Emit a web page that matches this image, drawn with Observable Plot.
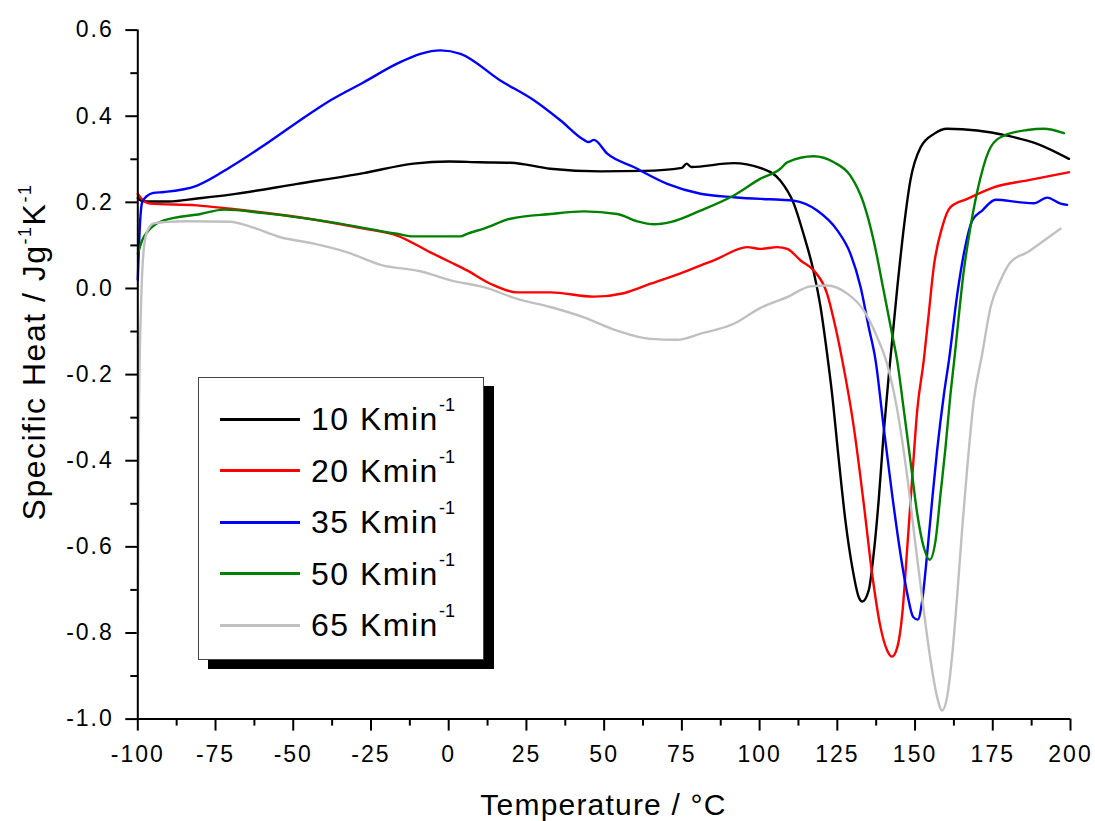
<!DOCTYPE html>
<html>
<head>
<meta charset="utf-8">
<script src="https://cdn.jsdelivr.net/npm/d3@7"></script>
<script src="https://cdn.jsdelivr.net/npm/@observablehq/plot@0.6"></script>
<style>
  body { margin: 0; background: #fff; }
  #wrap { position: relative; width: 1095px; height: 821px; font-family: "Liberation Sans", Arial, sans-serif; color: #000; }
  #wrap svg g[aria-label="x-axis tick label"] text,
  #wrap svg g[aria-label="y-axis tick label"] text { letter-spacing: 2px; }
  #legend { position: absolute; left: 198px; top: 377px; width: 284px; height: 281px;
            border: 1px solid #444; background: #fff; box-shadow: 10px 9px 0 #000; }
  .row { position: absolute; left: 0; height: 32px; display: flex; align-items: center; }
  .swatch { position: absolute; left: 21px; width: 80px; height: 3px; }
  .lab { position: absolute; left: 112px; white-space: nowrap; font-size: 32px; line-height: 32px; letter-spacing: 1.5px; }
  .sup { font-size: 18px; position: relative; top: -19px; letter-spacing: 0; }
</style>
</head>
<body>
<div id="wrap"></div>
<script>
// ---- data ----
const rates  = ["10", "20", "35", "50", "65"];
const colors = ["#000000", "#ff0000", "#0000ff", "#008000", "#c0c0c0"];

const t10  = [-100, -99, -97, -90, -80.9, -70.2, -48.7, -27.4, -11.3, 0, 10, 19.9, 32.7, 48.8, 62.7, 75, 76.5, 78, 91.6, 100.2, 106.7, 111, 114.1, 117.3, 119.6, 121.7, 123.3, 125.5, 127.6, 129.8, 131.9, 133, 135.1, 136.7, 138.3, 139.9, 141.6, 144.3, 146.4, 148.5, 151.8, 156.1, 160.3, 170, 179.6, 189.3, 199.5];
const cp10 = [0.21, 0.204, 0.202, 0.202, 0.209, 0.218, 0.243, 0.268, 0.290, 0.295, 0.293, 0.292, 0.278, 0.272, 0.273, 0.280, 0.290, 0.282, 0.291, 0.280, 0.250, 0.197, 0.127, 0.042, -0.043, -0.151, -0.244, -0.400, -0.539, -0.647, -0.717, -0.727, -0.701, -0.616, -0.492, -0.337, -0.198, 0.003, 0.142, 0.251, 0.328, 0.359, 0.371, 0.367, 0.355, 0.336, 0.301];

const t20  = [-100, -99, -96, -81, -70.2, -48.7, -27.3, -16.6, -5.9, 0.6, 5.9, 13.4, 22, 32.7, 46.7, 56.3, 64.9, 75.6, 86.4, 96, 100.3, 105.7, 108.9, 113.2, 117.4, 121.7, 123.9, 126.6, 130.3, 133.5, 136.2, 138.9, 141, 142.6, 144.3, 145.9, 147.5, 149.1, 150.7, 152.8, 154.4, 156, 158.7, 161.4, 166.8, 175.3, 186.1, 199.5];
const cp20 = [0.220, 0.210, 0.197, 0.193, 0.185, 0.166, 0.139, 0.123, 0.084, 0.061, 0.042, 0.011, -0.009, -0.009, -0.019, -0.011, 0.011, 0.038, 0.069, 0.096, 0.092, 0.096, 0.092, 0.065, 0.042, -0.012, -0.074, -0.167, -0.322, -0.500, -0.663, -0.787, -0.840, -0.855, -0.833, -0.755, -0.601, -0.438, -0.283, -0.167, -0.059, 0.049, 0.142, 0.189, 0.208, 0.235, 0.251, 0.270];

const t35  = [-100, -99.3, -98.6, -97, -95, -91.6, -80.9, -70.2, -59.5, -48.7, -38, -27.3, -16.6, -9.1, -2.6, 3.8, 16.6, 27.4, 36, 43.5, 45, 46.7, 51, 59.5, 70.3, 81, 91.7, 100.3, 106.7, 111, 118.5, 125, 129.2, 132.5, 135.1, 137.3, 139.9, 142.6, 145.3, 147.5, 149.4, 150.9, 152.3, 153.9, 155.5, 157.1, 159.3, 160.9, 163.6, 165.7, 168.4, 171.6, 175.9, 183.9, 188.2, 192.5, 196.8, 198.9];
const cp35 = [0.02, 0.15, 0.20, 0.215, 0.222, 0.224, 0.239, 0.282, 0.332, 0.386, 0.437, 0.479, 0.522, 0.545, 0.553, 0.545, 0.483, 0.437, 0.390, 0.345, 0.340, 0.345, 0.313, 0.282, 0.243, 0.220, 0.212, 0.208, 0.206, 0.204, 0.181, 0.135, 0.081, 0.003, -0.090, -0.167, -0.322, -0.477, -0.616, -0.709, -0.763, -0.769, -0.725, -0.616, -0.492, -0.376, -0.245, -0.167, -0.012, 0.081, 0.158, 0.181, 0.206, 0.200, 0.198, 0.211, 0.197, 0.194];

const t50  = [-100, -98.1, -91.6, -79.8, -72.3, -59.5, -38, -16.6, -11.2, 3.8, 5.9, 11.3, 19.9, 32.7, 43.5, 54.2, 60.6, 66, 71.3, 81, 91.7, 100.3, 106.7, 108.9, 117.4, 123.9, 129.2, 133.5, 136.7, 139.9, 142.6, 144.3, 146.4, 148.5, 150.7, 152.8, 154.7, 156.6, 158.2, 159.8, 161.4, 162.6, 165.7, 167.8, 171.1, 174.3, 178.6, 186.1, 191.4, 197.9];
const cp50 = [0.081, 0.119, 0.158, 0.173, 0.183, 0.175, 0.154, 0.127, 0.121, 0.121, 0.127, 0.139, 0.162, 0.173, 0.179, 0.173, 0.156, 0.149, 0.154, 0.181, 0.216, 0.255, 0.278, 0.293, 0.307, 0.293, 0.262, 0.197, 0.111, -0.005, -0.105, -0.170, -0.283, -0.399, -0.523, -0.601, -0.630, -0.585, -0.477, -0.369, -0.245, -0.167, 0.042, 0.142, 0.259, 0.328, 0.355, 0.368, 0.371, 0.361];

const t65  = [-100, -99.6, -99, -98.5, -97.5, -96, -94.9, -91.6, -84.1, -70.2, -64.8, -54.1, -43.4, -32.6, -21.9, -9.1, 0.6, 11.3, 22, 32.7, 43.5, 54.2, 64.9, 73.5, 81, 91.7, 100.3, 108.9, 116.4, 121.7, 128.2, 133.5, 137.8, 141, 144.3, 147.5, 150.1, 152.8, 155, 157.1, 158.7, 160.3, 162, 163.6, 165.2, 166.8, 168.9, 171.6, 174.3, 177.5, 180.7, 186.1, 191.4, 196.8];
const cp65 = [-0.80, -0.27, -0.05, 0.05, 0.12, 0.145, 0.151, 0.154, 0.156, 0.155, 0.146, 0.119, 0.104, 0.084, 0.055, 0.040, 0.019, 0.003, -0.024, -0.043, -0.067, -0.098, -0.117, -0.119, -0.105, -0.082, -0.045, -0.020, 0.005, 0.007, -0.012, -0.051, -0.113, -0.175, -0.283, -0.438, -0.593, -0.748, -0.864, -0.949, -0.980, -0.949, -0.848, -0.709, -0.554, -0.415, -0.260, -0.152, -0.043, 0.019, 0.061, 0.084, 0.111, 0.139];

const xMajor = [-100, -75, -50, -25, 0, 25, 50, 75, 100, 125, 150, 175, 200];
const xMinor = [-87.5, -62.5, -37.5, -12.5, 12.5, 37.5, 62.5, 87.5, 112.5, 137.5, 162.5, 187.5];
const yMajor = [-1.0, -0.8, -0.6, -0.4, -0.2, 0.0, 0.2, 0.4, 0.6];
const yMinor = [-0.9, -0.7, -0.5, -0.3, -0.1, 0.1, 0.3, 0.5];

const xTitle = "Temperature / °C";
const legendUnit = "Kmin";

// ---- build table ----
const seriesT  = [t10, t20, t35, t50, t65];
const seriesCp = [cp10, cp20, cp35, cp50, cp65];
const rows = [];
rates.forEach((r, k) => seriesT[k].forEach((t, i) => rows.push({T: t, cp: seriesCp[k][i], rate: r})));

const plot = Plot.plot({
  width: 1095,
  height: 821,
  marginLeft: 137.3,
  marginRight: 25,
  marginTop: 29.6,
  marginBottom: 102.4,
  style: {fontFamily: '"Liberation Sans", Arial, sans-serif', background: "#fff", color: "#000"},
  x: {domain: [-100, 200]},
  y: {domain: [-1, 0.6]},
  color: {domain: rates, range: colors},
  marks: [
    Plot.axisX({ticks: xMajor, tickSize: 12, tickPadding: 15, fontSize: 23, strokeWidth: 2, tickFormat: d => String(d), label: null}),
    Plot.axisX({ticks: xMinor, tickSize: 7, strokeWidth: 2, text: null, label: null}),
    Plot.axisY({ticks: yMajor, tickSize: 12, tickPadding: 12, fontSize: 23, strokeWidth: 2, tickFormat: d => d.toFixed(1), label: null}),
    Plot.axisY({ticks: yMinor, tickSize: 7, strokeWidth: 2, text: null, label: null}),
    Plot.line(rows, {x: "T", y: "cp", z: "rate", stroke: "rate", strokeWidth: 2.4, curve: "monotone-x"}),
    Plot.ruleX([-100], {strokeWidth: 2}),
    Plot.ruleY([-1], {strokeWidth: 2})
  ]
});

const wrap = document.getElementById("wrap");
wrap.appendChild(plot);

// axis titles
const svg = d3.select(plot);
svg.append("text")
  .attr("x", 603.5).attr("y", 815)
  .attr("text-anchor", "middle")
  .attr("font-size", 30)
  .attr("letter-spacing", "1.2px")
  .attr("fill", "#000")
  .text(xTitle);

const yt = svg.append("text")
  .attr("transform", "translate(45,352) rotate(-90)")
  .attr("text-anchor", "middle")
  .attr("font-size", 32)
  .attr("letter-spacing", "1.5px")
  .attr("fill", "#000");
yt.append("tspan").text("Specific Heat / Jg");
yt.append("tspan").attr("font-size", 18).attr("dy", -14).text("-1");
yt.append("tspan").attr("dy", 14).text("K");
yt.append("tspan").attr("font-size", 18).attr("dy", -14).text("-1");

// legend
const legend = document.createElement("div");
legend.id = "legend";
rates.forEach((r, i) => {
  const row = document.createElement("div");
  row.className = "row";
  row.style.top = (41 + i * 51.5 - 16) + "px";
  const sw = document.createElement("div");
  sw.className = "swatch";
  sw.style.background = colors[i];
  sw.style.top = "14.5px";
  const lab = document.createElement("div");
  lab.className = "lab";
  lab.style.top = "0px";
  lab.innerHTML = r + " " + legendUnit + '<span class="sup">-1</span>';
  row.appendChild(sw);
  row.appendChild(lab);
  legend.appendChild(row);
});
wrap.appendChild(legend);
</script>
</body>
</html>
